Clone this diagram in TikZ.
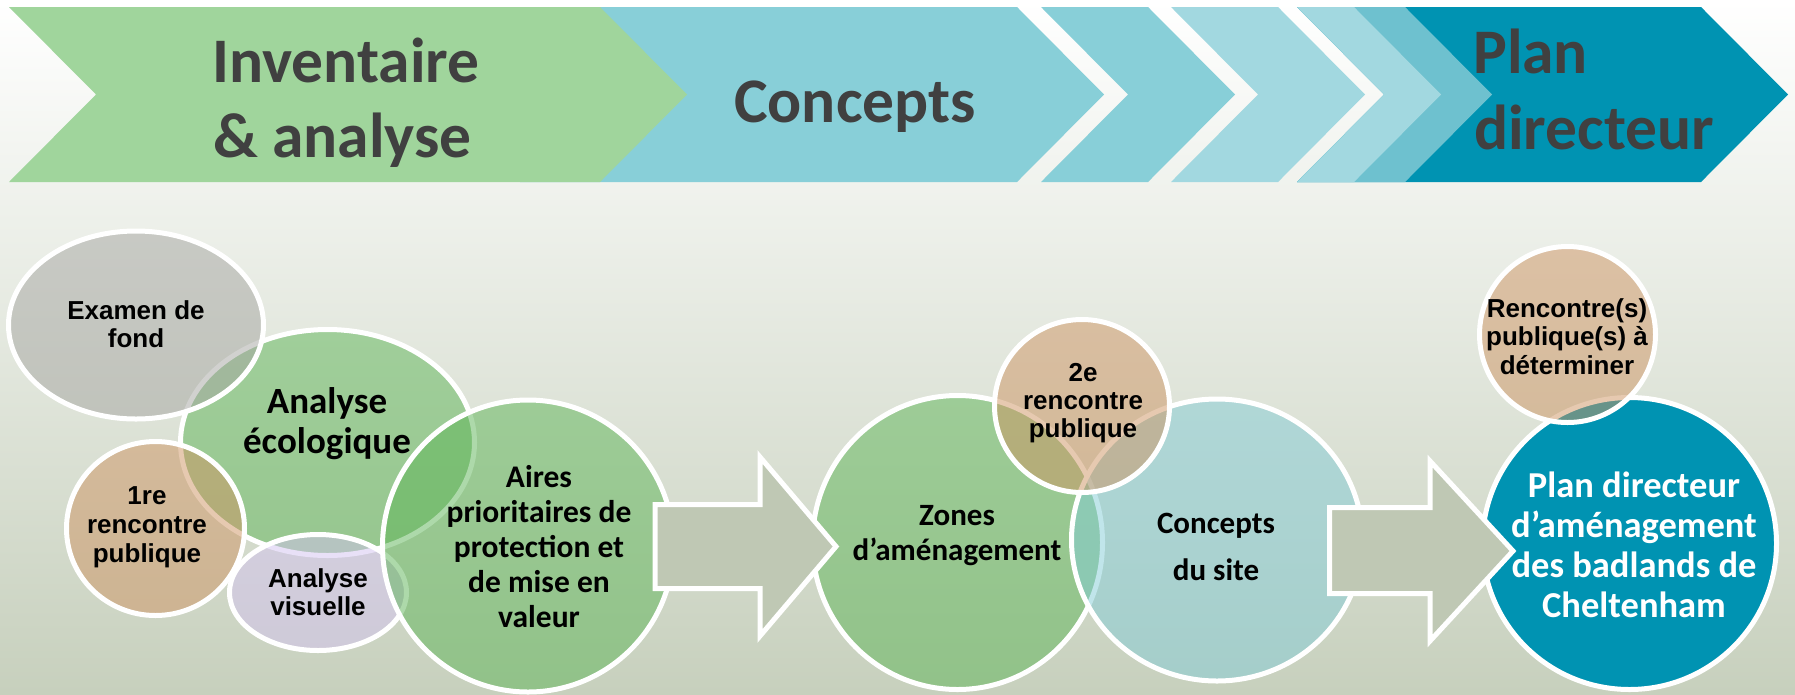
\documentclass[tikz,border=0pt]{standalone}
\usepackage{fontspec}
\newfontfamily\calfont{Carlito}
\newfontfamily\arialfont{Liberation Sans}
\definecolor{cgreen}{HTML}{A0D59C}
\definecolor{cconc}{HTML}{88CFD8}
\definecolor{clight}{HTML}{A2D8E0}
\definecolor{cmed}{HTML}{6EC1CF}
\definecolor{cdark}{HTML}{0093B2}
\definecolor{titlegray}{HTML}{404040}
\definecolor{bgbot}{HTML}{C7D0BD}
\definecolor{egreen}{HTML}{5DB556}
\definecolor{egray}{HTML}{A5A5A1}
\definecolor{etan}{HTML}{CE9462}
\definecolor{elav}{HTML}{D3C3F0}
\definecolor{eteal}{HTML}{83CCD6}
\definecolor{arrowfill}{HTML}{BFC8B4}
\newcommand\chevshape[3]{\fill[#1] (#2,7) -- (#3,7) -- ({#3+87},94.5) -- (#3,182) -- (#2,182) -- ({#2+87},94.5) -- cycle;}
\begin{document}
\begin{tikzpicture}[x=1pt,y=-1pt,
  circ/.style={draw=white, line width=5pt, fill opacity=0.5, draw opacity=1},
  solidcirc/.style={draw=white, line width=5pt},
  bigarrow/.style={draw=white, line width=5pt, fill=arrowfill, line join=miter},
  title/.style={inner sep=0pt, anchor=base west, text=titlegray, font=\calfont\bfseries\fontsize{63.5}{75}\selectfont},
  lblA/.style={inner sep=0pt, anchor=base, text=black, font=\arialfont\bfseries\fontsize{26}{28}\selectfont},
  lblC/.style={inner sep=0pt, anchor=base, text=black, font=\calfont\bfseries\fontsize{31}{35}\selectfont},
  lblAir/.style={lblC, font=\calfont\bfseries\fontsize{31.5}{35}\selectfont},
  lblE/.style={inner sep=0pt, anchor=base, text=black, font=\calfont\bfseries\fontsize{37}{40}\selectfont},
  lblP/.style={inner sep=0pt, anchor=base, text=white, font=\calfont\bfseries\fontsize{36.5}{40}\selectfont}]
\useasboundingbox (0,0) rectangle (1795,694);
\shade[top color=white, bottom color=bgbot] (0,0) rectangle (1795,694);
% chevrons
\chevshape{cdark}{1297}{1701}
\chevshape{cmed}{1297}{1405}
\chevshape{clight}{1297}{1354}
\chevshape{clight}{1171}{1278}
\chevshape{cconc}{1041}{1148}
\chevshape{cconc}{520}{1017}
\chevshape{cgreen}{9}{600}
\node[title] (t-inv1) at (212,82) {Inventaire};
\node[title] (t-inv2) at (213,157) {\&\ analyse};
\node[title] (t-conc) at (734,122) {Concepts};
\node[title] (t-plan1) at (1473,73) {Plan};
\node[title] (t-plan2) at (1474,149) {directeur};
% ellipses
\path[circ, fill=egreen] (327.5,442.5) ellipse [x radius=147pt, y radius=113pt];
\path[circ, fill=egray] (136,325) ellipse [x radius=127.5pt, y radius=94pt];
\path[circ, fill=etan] (155.5,528.5) ellipse [x radius=89pt, y radius=87pt];
\path[circ, fill=elav] (318,592.5) ellipse [x radius=88.5pt, y radius=58pt];
\path[circ, fill=egreen] (528,546) ellipse [x radius=145.5pt, y radius=146pt];
\path[circ, fill=egreen] (957.5,542.5) ellipse [x radius=145pt, y radius=147pt];
\path[circ, fill=eteal] (1217,540) ellipse [x radius=145.5pt, y radius=141pt];
\path[circ, fill=etan] (1082,406) ellipse [x radius=87.5pt, y radius=86.5pt];
\path[solidcirc, fill=cdark] (1629.5,543.5) ellipse [x radius=147pt, y radius=146pt];
\path[circ, fill=etan] (1567.5,334.5) ellipse [x radius=88pt, y radius=88pt];
% arrows
\path[bigarrow] (655,504.5) -- (760,504.5) -- (760,457) -- (836,546.5) -- (760,636) -- (760,588.5) -- (655,588.5) -- cycle;
\path[bigarrow] (1329.5,507.5) -- (1430,507.5) -- (1430,461) -- (1513,551) -- (1430,641) -- (1430,593.5) -- (1329.5,593.5) -- cycle;
% labels
\node[lblA] (l-exa1) at (136,319) {Examen de};
\node[lblA] (l-exa2) at (136,347) {fond};
\node[lblE] (l-eco1) at (327,413) {Analyse};
\node[lblE] (l-eco2) at (327,453) {écologique};
\node[lblA] (l-re1) at (147,504) {1re};
\node[lblA] (l-re2) at (147,533) {rencontre};
\node[lblA] (l-re3) at (147,562) {publique};
\node[lblA] (l-vis1) at (318,587) {Analyse};
\node[lblA] (l-vis2) at (318,615) {visuelle};
\node[lblAir] (l-air1) at (539,487) {Aires};
\node[lblAir] (l-air2) at (539,522) {prioritaires de};
\node[lblAir] (l-air3) at (539,557) {protection et};
\node[lblAir] (l-air4) at (539,592) {de mise en};
\node[lblAir] (l-air5) at (539,627) {valeur};
\node[lblC] (l-zon1) at (957,525) {Zones};
\node[lblC] (l-zon2) at (957,560) {d’aménagement};
\node[lblA] (l-2e1) at (1083,381) {2e};
\node[lblA] (l-2e2) at (1083,409) {rencontre};
\node[lblA] (l-2e3) at (1083,437) {publique};
\node[lblC] (l-cds1) at (1216,533) {Concepts};
\node[lblC] (l-cds2) at (1216,580) {du site};
\node[lblA] (l-rs1) at (1567,317) {Rencontre(s)};
\node[lblA] (l-rs2) at (1567,345) {publique(s) à};
\node[lblA] (l-rs3) at (1567,374) {déterminer};
\node[lblP] (l-pd1) at (1634,497) {Plan directeur};
\node[lblP] (l-pd2) at (1634,537) {d’aménagement};
\node[lblP] (l-pd3) at (1634,577) {des badlands de};
\node[lblP] (l-pd4) at (1634,617) {Cheltenham};
\end{tikzpicture}
\end{document}
